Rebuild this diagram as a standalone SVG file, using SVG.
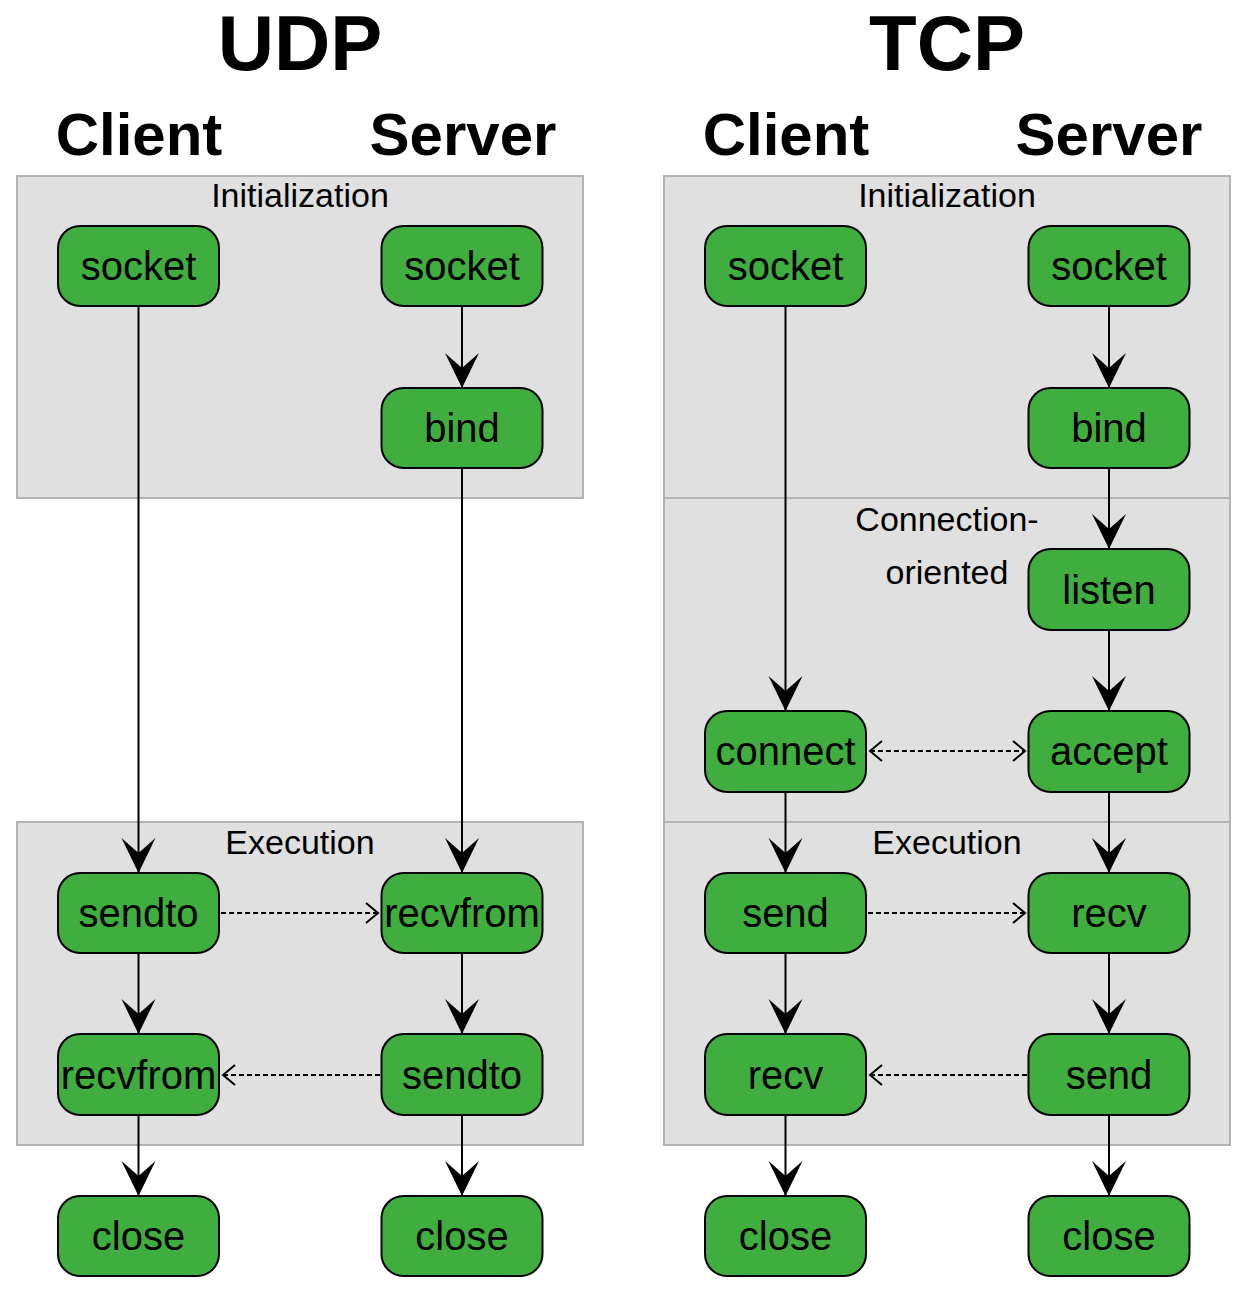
<svg xmlns="http://www.w3.org/2000/svg" width="1248" height="1292" viewBox="0 0 1248 1292">
<style>
.title{font-family:"Liberation Sans",Arial,sans-serif;font-weight:bold;font-size:78px;fill:#000;text-anchor:middle}
.role{font-family:"Liberation Sans",Arial,sans-serif;font-weight:bold;font-size:60px;fill:#000;text-anchor:middle}
.clabel{font-family:"Liberation Sans",Arial,sans-serif;font-size:34px;fill:#000;text-anchor:middle}
.cluster{fill:#e0e0e0;stroke:#b3b3b3;stroke-width:2}
.node rect{fill:#3fae3f;stroke:#000;stroke-width:2}
.node text{font-family:"Liberation Sans",Arial,sans-serif;font-size:40px;fill:#000;text-anchor:middle}
.edge{stroke:#000;stroke-width:2;fill:none}
.dash{stroke:#000;stroke-width:2;fill:none;stroke-dasharray:5,3}
</style>
<defs>
<marker id="vee" markerUnits="userSpaceOnUse" markerWidth="40" markerHeight="40" viewBox="-38 -20 40 40" refX="0" refY="0" orient="auto">
<path d="M0,0 L-35,-17 L-20,0 L-35,17 Z" fill="#000"/>
</marker>
<marker id="open" markerUnits="userSpaceOnUse" markerWidth="16" markerHeight="24" viewBox="-14 -12 16 24" refX="0" refY="0" orient="auto-start-reverse">
<path d="M-12,-10 L0,0 L-12,10" fill="none" stroke="#000" stroke-width="2"/>
</marker>
</defs>

<text class="title" x="300" y="70">UDP</text>
<text class="title" x="947" y="70">TCP</text>
<text class="role" x="139" y="155">Client</text>
<text class="role" x="463" y="155">Server</text>
<text class="role" x="786" y="155">Client</text>
<text class="role" x="1109" y="155">Server</text>

<g id="clusters">
<g id="udp-init"><rect class="cluster" x="17" y="176" width="566" height="322"/><text class="clabel" x="300" y="207">Initialization</text></g>
<g id="udp-exec"><rect class="cluster" x="17" y="822" width="566" height="323"/><text class="clabel" x="300" y="854">Execution</text></g>
<g id="tcp-init"><rect class="cluster" x="664" y="176" width="566" height="322"/><text class="clabel" x="947" y="207">Initialization</text></g>
<g id="tcp-conn"><rect class="cluster" x="664" y="498" width="566" height="324"/><text class="clabel" x="947" y="531">Connection-</text><text class="clabel" x="947" y="584">oriented</text></g>
<g id="tcp-exec"><rect class="cluster" x="664" y="822" width="566" height="323"/><text class="clabel" x="947" y="854">Execution</text></g>
</g>

<g id="connectors">
<line class="edge" x1="138.5" y1="306" x2="138.5" y2="873" marker-end="url(#vee)"/>
<line class="edge" x1="462" y1="306" x2="462" y2="388" marker-end="url(#vee)"/>
<line class="edge" x1="462" y1="468" x2="462" y2="873" marker-end="url(#vee)"/>
<line class="edge" x1="138.5" y1="953" x2="138.5" y2="1034" marker-end="url(#vee)"/>
<line class="edge" x1="462" y1="953" x2="462" y2="1034" marker-end="url(#vee)"/>
<line class="edge" x1="138.5" y1="1115" x2="138.5" y2="1196" marker-end="url(#vee)"/>
<line class="edge" x1="462" y1="1115" x2="462" y2="1196" marker-end="url(#vee)"/>
<line class="dash" x1="221" y1="913" x2="378" y2="913" marker-end="url(#open)"/>
<line class="dash" x1="380" y1="1075" x2="223" y2="1075" marker-end="url(#open)"/>

<line class="edge" x1="785.5" y1="306" x2="785.5" y2="711" marker-end="url(#vee)"/>
<line class="edge" x1="1109" y1="306" x2="1109" y2="388" marker-end="url(#vee)"/>
<line class="edge" x1="1109" y1="468" x2="1109" y2="549" marker-end="url(#vee)"/>
<line class="edge" x1="1109" y1="630" x2="1109" y2="711" marker-end="url(#vee)"/>
<line class="edge" x1="785.5" y1="792" x2="785.5" y2="873" marker-end="url(#vee)"/>
<line class="edge" x1="1109" y1="792" x2="1109" y2="873" marker-end="url(#vee)"/>
<line class="edge" x1="785.5" y1="953" x2="785.5" y2="1034" marker-end="url(#vee)"/>
<line class="edge" x1="1109" y1="953" x2="1109" y2="1034" marker-end="url(#vee)"/>
<line class="edge" x1="785.5" y1="1115" x2="785.5" y2="1196" marker-end="url(#vee)"/>
<line class="edge" x1="1109" y1="1115" x2="1109" y2="1196" marker-end="url(#vee)"/>
<line class="dash" x1="870" y1="751" x2="1025" y2="751" marker-start="url(#open)" marker-end="url(#open)"/>
<line class="dash" x1="868" y1="913" x2="1025" y2="913" marker-end="url(#open)"/>
<line class="dash" x1="1027" y1="1075" x2="870" y2="1075" marker-end="url(#open)"/>
</g>

<g id="udp-client-socket" class="node"><rect x="58" y="226" width="161" height="80" rx="22"/><text x="138.5" y="280">socket</text></g>
<g id="udp-server-socket" class="node"><rect x="381.5" y="226" width="161" height="80" rx="22"/><text x="462" y="280">socket</text></g>
<g id="udp-server-bind" class="node"><rect x="381.5" y="388" width="161" height="80" rx="22"/><text x="462" y="442">bind</text></g>
<g id="udp-client-sendto" class="node"><rect x="58" y="873" width="161" height="80" rx="22"/><text x="138.5" y="927">sendto</text></g>
<g id="udp-server-recvfrom" class="node"><rect x="381.5" y="873" width="161" height="80" rx="22"/><text x="462" y="927">recvfrom</text></g>
<g id="udp-client-recvfrom" class="node"><rect x="58" y="1034" width="161" height="81" rx="22"/><text x="138.5" y="1089">recvfrom</text></g>
<g id="udp-server-sendto" class="node"><rect x="381.5" y="1034" width="161" height="81" rx="22"/><text x="462" y="1089">sendto</text></g>
<g id="udp-client-close" class="node"><rect x="58" y="1196" width="161" height="80" rx="22"/><text x="138.5" y="1250">close</text></g>
<g id="udp-server-close" class="node"><rect x="381.5" y="1196" width="161" height="80" rx="22"/><text x="462" y="1250">close</text></g>

<g id="tcp-client-socket" class="node"><rect x="705" y="226" width="161" height="80" rx="22"/><text x="785.5" y="280">socket</text></g>
<g id="tcp-server-socket" class="node"><rect x="1028.5" y="226" width="161" height="80" rx="22"/><text x="1109" y="280">socket</text></g>
<g id="tcp-server-bind" class="node"><rect x="1028.5" y="388" width="161" height="80" rx="22"/><text x="1109" y="442">bind</text></g>
<g id="tcp-server-listen" class="node"><rect x="1028.5" y="549" width="161" height="81" rx="22"/><text x="1109" y="604">listen</text></g>
<g id="tcp-client-connect" class="node"><rect x="705" y="711" width="161" height="81" rx="22"/><text x="785.5" y="765">connect</text></g>
<g id="tcp-server-accept" class="node"><rect x="1028.5" y="711" width="161" height="81" rx="22"/><text x="1109" y="765">accept</text></g>
<g id="tcp-client-send" class="node"><rect x="705" y="873" width="161" height="80" rx="22"/><text x="785.5" y="927">send</text></g>
<g id="tcp-server-recv" class="node"><rect x="1028.5" y="873" width="161" height="80" rx="22"/><text x="1109" y="927">recv</text></g>
<g id="tcp-client-recv" class="node"><rect x="705" y="1034" width="161" height="81" rx="22"/><text x="785.5" y="1089">recv</text></g>
<g id="tcp-server-send" class="node"><rect x="1028.5" y="1034" width="161" height="81" rx="22"/><text x="1109" y="1089">send</text></g>
<g id="tcp-client-close" class="node"><rect x="705" y="1196" width="161" height="80" rx="22"/><text x="785.5" y="1250">close</text></g>
<g id="tcp-server-close" class="node"><rect x="1028.5" y="1196" width="161" height="80" rx="22"/><text x="1109" y="1250">close</text></g>
</svg>
